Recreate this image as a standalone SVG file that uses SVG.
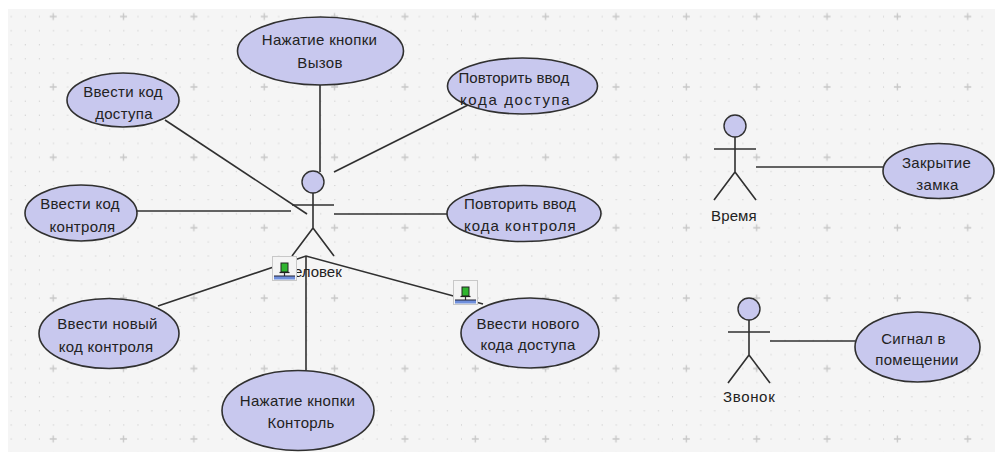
<svg xmlns="http://www.w3.org/2000/svg" width="995" height="452" viewBox="0 0 995 452">
<style>
.uc{fill:#c8c8ee;stroke:#303030;stroke-width:1.6}
.ln{stroke:#303030;stroke-width:1.6;fill:none}
.head{fill:#c8c8ee;stroke:#303030;stroke-width:1.4}
text{font-family:"Liberation Sans",Arial,sans-serif;font-size:15px;letter-spacing:.3px;fill:#222;text-anchor:middle}
.d{fill:#c4c4c4}
.p{stroke:#c8c8c8;stroke-width:1.4}
</style>
<defs>
<pattern id="grid" x="4.2" y="9.6" width="70.35" height="70.4" patternUnits="userSpaceOnUse">
<g transform="translate(7,7)">
<g class="d">
<rect x="13.6" y="-.5" width="1" height="1"/><rect x="27.7" y="-.5" width="1" height="1"/><rect x="41.8" y="-.5" width="1" height="1"/><rect x="55.9" y="-.5" width="1" height="1"/>
<rect x="-.5" y="13.6" width="1" height="1"/><rect x="13.6" y="13.6" width="1" height="1"/><rect x="27.7" y="13.6" width="1" height="1"/><rect x="41.8" y="13.6" width="1" height="1"/><rect x="55.9" y="13.6" width="1" height="1"/>
<rect x="-.5" y="27.7" width="1" height="1"/><rect x="13.6" y="27.7" width="1" height="1"/><rect x="27.7" y="27.7" width="1" height="1"/><rect x="41.8" y="27.7" width="1" height="1"/><rect x="55.9" y="27.7" width="1" height="1"/>
<rect x="-.5" y="41.8" width="1" height="1"/><rect x="13.6" y="41.8" width="1" height="1"/><rect x="27.7" y="41.8" width="1" height="1"/><rect x="41.8" y="41.8" width="1" height="1"/><rect x="55.9" y="41.8" width="1" height="1"/>
<rect x="-.5" y="55.9" width="1" height="1"/><rect x="13.6" y="55.9" width="1" height="1"/><rect x="27.7" y="55.9" width="1" height="1"/><rect x="41.8" y="55.9" width="1" height="1"/><rect x="55.9" y="55.9" width="1" height="1"/>
<rect x="-.5" y="-.5" width="1" height="1"/>
</g>
<path class="p" d="M42-3.500V3.500M38.500 0H45.500"/>
</g>
</pattern>
<g id="pin">
<rect x=".5" y=".5" width="24" height="24" fill="#f4f4f4" stroke="#c8c8c8"/>
<path d="M12.500 16V20" stroke="#333" stroke-width="1.200"/>
<rect x="9" y="7" width="7" height="9" fill="#2fb52f" stroke="#222" stroke-width="1"/>
<path d="M7.500 16.500H17.500" stroke="#222" stroke-width="1.200"/>
<rect x="2" y="20" width="21" height="3.500" fill="#6f8fdc"/>
<path d="M2 20H23" stroke="#223" stroke-width="1"/>
</g>
<g id="actor">
<circle cx="0" cy="0" r="11" class="head"/>
<path class="ln" d="M0 11V46M-21 23H21M0 46L-21 74M0 46L21 74"/>
</g>
</defs>
<rect width="995" height="452" fill="#fff"/>
<rect x="8" y="9" width="987" height="443" fill="#f5f5f5"/>
<rect x="8" y="9" width="987" height="443" fill="url(#grid)"/>

<g id="connectors" class="ln">
<path d="M320 85V172"/>
<path d="M334 172L470 104"/>
<path d="M165 120L307 214"/>
<path d="M137 211H291"/>
<path d="M334 214H447"/>
<path d="M158 306L306 256L483 304"/>
<path d="M306 256V370"/>
<path d="M756 167H883"/>
<path d="M770 341H855"/>
</g>

<g id="actor-chelovek"><use href="#actor" x="313" y="182"/><text x="313" y="277" textLength="58" lengthAdjust="spacing">Человек</text></g>
<g id="actor-vremya"><use href="#actor" x="735" y="126"/><text x="734" y="221" textLength="46" lengthAdjust="spacing">Время</text></g>
<g id="actor-zvonok"><use href="#actor" x="749" y="309"/><text x="749" y="402" textLength="52" lengthAdjust="spacing">Звонок</text></g>

<g id="pin1"><use href="#pin" x="272" y="256"/></g>
<g id="pin2"><use href="#pin" x="453" y="280"/></g>

<g id="uc-vyzov"><ellipse class="uc" cx="320.500" cy="51" rx="83" ry="34"/><text x="319.500" y="45">Нажатие кнопки</text><text x="320" y="68">Вызов</text></g>
<g id="uc-povtor-dostup"><ellipse class="uc" cx="522.500" cy="86" rx="75" ry="28"/><text x="514" y="83" textLength="111" lengthAdjust="spacing">Повторить ввод</text><text x="515" y="105" textLength="110" lengthAdjust="spacing">кода доступа</text></g>
<g id="uc-vvesti-dostup"><ellipse class="uc" cx="123" cy="100" rx="56" ry="27"/><text x="123" y="97">Ввести код</text><text x="124" y="119">доступа</text></g>
<g id="uc-vvesti-kontrol"><ellipse class="uc" cx="81" cy="213" rx="56" ry="28"/><text x="80" y="209">Ввести код</text><text x="82.500" y="232">контроля</text></g>
<g id="uc-povtor-kontrol"><ellipse class="uc" cx="524" cy="213.500" rx="77" ry="28"/><text x="520" y="209" textLength="112" lengthAdjust="spacing">Повторить ввод</text><text x="520" y="231" textLength="112" lengthAdjust="spacing">кода контроля</text></g>
<g id="uc-novy-kontrol"><ellipse class="uc" cx="109" cy="333.500" rx="70" ry="35"/><text x="107.500" y="329">Ввести новый</text><text x="106" y="352">код контроля</text></g>
<g id="uc-novy-dostup"><ellipse class="uc" cx="530" cy="333" rx="69" ry="35"/><text x="528" y="329">Ввести нового</text><text x="528" y="350">кода доступа</text></g>
<g id="uc-kontrol"><ellipse class="uc" cx="298" cy="410.500" rx="76" ry="40"/><text x="297.500" y="406">Нажатие кнопки</text><text x="301" y="428">Конторль</text></g>
<g id="uc-zamok"><ellipse class="uc" cx="938.500" cy="171" rx="55.500" ry="27.500"/><text x="936.500" y="168">Закрытие</text><text x="937.500" y="190">замка</text></g>
<g id="uc-signal"><ellipse class="uc" cx="917.500" cy="347" rx="62.500" ry="35"/><text x="913.500" y="344">Сигнал в</text><text x="917" y="365">помещении</text></g>
</svg>
